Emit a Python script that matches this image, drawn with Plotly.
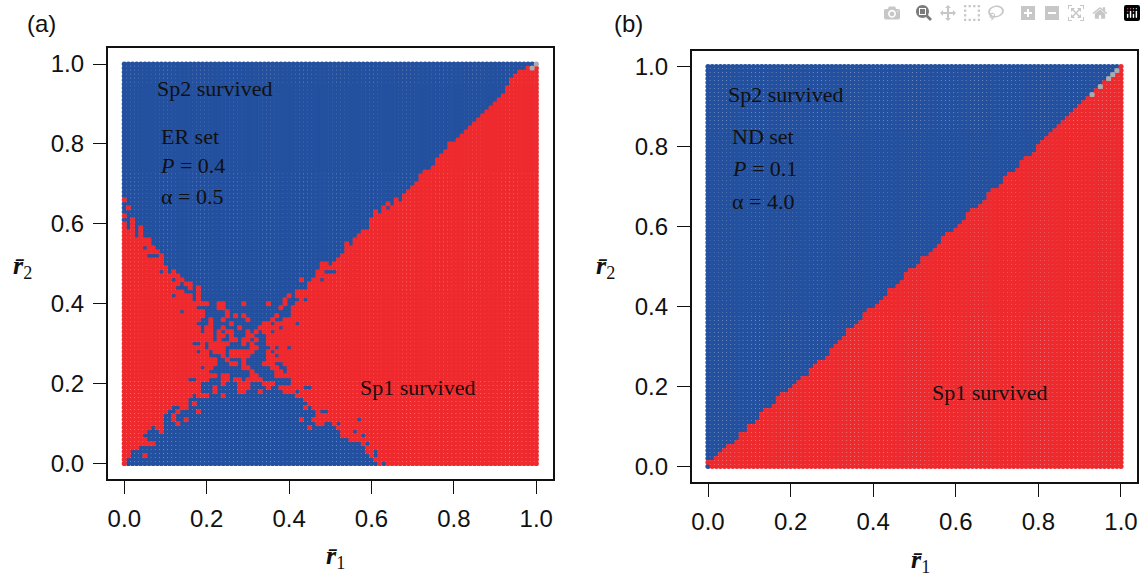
import plotly.graph_objects as go

W, H = 1146, 578
BLUE = "#23509F"
RED = "#EE2A2E"
GRAY = "#A9ABAE"
grid = [k / 100 for k in range(101)]
tick_vals = [0.0, 0.2, 0.4, 0.6, 0.8, 1.0]
tick_text = ["0.0", "0.2", "0.4", "0.6", "0.8", "1.0"]

# Panel (a): runs of Sp2 cells (first, last column) per row, from the bottom row up
a_runs_low = [
    [(1,61),(63,63)], [(1,60)], [(2,4),(6,59),(61,61)], [(2,58),(61,61)], [(4,58)],
    [(8,57),(59,59)], [(6,54)], [(5,52),(58,58)], [(6,8),(10,52),(56,56)], [(7,7),(10,44),(46,51)],
    [(10,12),(14,46),(49,50),(52,52)], [(10,11),(13,14),(16,42),(44,45),(57,57)], [(10,11),(13,46)],
    [(11,12),(14,17),(19,46),(48,49)], [(12,13),(16,43),(45,45)], [(16,16),(18,44)], [(16,43)],
    [(17,17),(21,23),(25,41)], [(19,21),(23,27),(30,32),(34,38),(42,42)],
    [(19,21),(23,27),(31,34),(36,37),(44,45)], [(19,23),(25,27),(31,33),(37,40)],
    [(16,17),(21,23),(26,26),(29,29),(34,40)], [(23,23),(26,30),(33,36)],
    [(21,30),(32,36),(39,39)], [(19,19),(22,28),(31,35),(38,39)], [(23,25),(28,28),(30,33),(37,38)],
    [(23,24),(26,28),(30,34)], [(21,23),(25,25),(31,34),(37,37)], [(18,18),(21,21),(25,25),(32,34),(36,36)],
    [(20,20),(25,30),(33,35),(37,37),(40,40)], [(17,18),(20,20),(26,28),(30,30),(32,34)],
    [(22,22),(24,25),(28,28),(31,31),(33,34)], [(22,22),(25,25),(27,29),(32,34)],
    [(19,19),(22,22),(24,24),(27,29),(31,31),(33,33),(36,36)],
    [(19,19),(22,23),(25,27),(29,32),(38,38)], [(18,20),(22,25),(27,33),(36,36),(42,42)],
    [(19,20),(22,23),(25,29),(31,35),(37,38)], [(20,24),(26,26),(28,28),(30,36),(38,40)],
    [(14,14),(20,24),(26,40)], [(18,22),(25,37),(39,40)], [(21,22),(25,28),(30,34),(36,38),(40,41)],
    [(17,17),(19,38),(40,42),(44,44)], [(12,12),(17,17),(19,39),(41,41)], [(15,17),(19,41)],
    [(13,15),(17,17),(19,44)], [(14,14),(17,44)], [(12,12),(15,42),(44,45),(48,48)], [(14,46)],
    [(9,9),(11,11),(13,46),(49,51)], [(11,47)], [(10,47),(50,50)], [(10,51)], [(6,8),(10,52)],
    [(9,53)], [(5,5),(8,53)], [(7,53),(55,55)], [(7,55)], [(3,3),(5,56)], [(3,3),(5,57)],
    [(1,1),(3,3),(5,59)], [(1,1),(3,59)], [(0,1),(3,59)], [(1,60)], [(0,60),(62,62)],
    [(0,0),(2,62),(64,64)], [(0,63),(65,65)], [(1,65),(67,67)],
]
# Rows 67..100 of panel (a): last Sp2 column of the row
a_last_sp2_high = [67,68,69,70,71,71,72,74,75,75,76,77,78,78,80,81,82,83,84,85,86,87,88,89,90,91,92,
                   92,93,93,94,95,97,99]
a_undecided = [(99,99),(100,100)]

# Panel (b): last Sp2 column of each row, bottom to top (-1 = no Sp2 cell)
b_last_sp2 = [0,-1,1,2,3,4,6,7,7,9,9,11,12,12,13,15,16,16,17,19,20,21,22,24,24,25,26,28,29,29,30,31,
              32,33,33,35,36,37,37,38,40,41,42,43,43,45,46,47,47,48,50,51,51,53,54,55,56,56,57,59,
              60,61,62,62,63,65,66,67,67,68,70,71,71,72,74,75,75,76,78,79,79,80,81,82,83,84,85,86,
              87,88,89,90,91,92,93,94,95,96,97,98,99]
b_undecided = [(93,93),(95,95),(97,97),(98,98),(99,99)]

a_rows = a_runs_low + [[(0, e)] for e in a_last_sp2_high]
b_rows = [[(0, e)] if e >= 0 else [] for e in b_last_sp2]


def cells(rows, undecided):
    und = {(i, j) for j, i in undecided}
    sp2, sp1, gray = ([], []), ([], []), ([], [])
    for j, runs in enumerate(rows):
        for i in range(101):
            target = gray if (i, j) in und else (sp2 if any(a <= i <= b for a, b in runs) else sp1)
            target[0].append(grid[i])
            target[1].append(grid[j])
    return sp2, sp1, gray


fig = go.Figure()
for suffix, rows, und in (("", a_rows, a_undecided), ("2", b_rows, b_undecided)):
    sp2, sp1, gray = cells(rows, und)
    for pts, col in ((sp2, BLUE), (sp1, RED), (gray, GRAY)):
        fig.add_trace(go.Scatter(x=pts[0], y=pts[1], mode="markers", xaxis="x" + suffix, yaxis="y" + suffix,
                                 marker=dict(symbol="circle", size=5.2, color=col, line_width=0),
                                 showlegend=False, hoverinfo="skip"))


def axis(domain, rng, anchor):
    return dict(domain=domain, range=rng, anchor=anchor, tickvals=tick_vals, ticktext=tick_text, ticks="outside",
                ticklen=13, tickwidth=1.4, tickcolor="#111", showline=True, linecolor="#111", linewidth=1.6,
                mirror=True, showgrid=False, zeroline=False, ticklabelstandoff=4,
                tickfont=dict(family="Liberation Sans", size=24, color="#111"))


fig.update_layout(
    width=W, height=H, margin=dict(l=0, r=0, t=0, b=0), paper_bgcolor="white", plot_bgcolor="white",
    xaxis=axis([107.7 / W, 553.3 / W], [-0.0403, 1.0413], "y"),
    yaxis=axis([1 - 479.3 / H, 1 - 48.3 / H], [-0.0395, 1.0393], "x"),
    xaxis2=axis([691.7 / W, 1137.3 / W], [-0.0395, 1.0395], "y2"),
    yaxis2=axis([1 - 482 / H, 1 - 51 / H], [-0.0393, 1.0388], "x2"),
)

SERIF = "Liberation Serif"
SANS = "Liberation Sans"
labels = [
    (25, 24, "(a)", SANS, 24, "left"), (612, 24, "(b)", SANS, 24, "left"),
    (155, 88, "Sp2 survived", SERIF, 22, "left"), (159, 137, "ER set", SERIF, 22, "left"),
    (158, 165, "<i>P</i> = 0.4", SERIF, 22, "left"), (159, 196, "α = 0.5", SERIF, 22, "left"),
    (358, 387, "Sp1 survived", SERIF, 22, "left"),
    (726, 94, "Sp2 survived", SERIF, 22, "left"), (730, 136, "ND set", SERIF, 22, "left"),
    (730, 169, "<i>P</i> = 0.1", SERIF, 22, "left"), (730, 201, "α = 4.0", SERIF, 22, "left"),
    (930, 392, "Sp1 survived", SERIF, 22, "left"),
    (335, 557, "<b><i>r̄</i></b><sub>1</sub>", SERIF, 26, "center"), (920, 561, "<b><i>r̄</i></b><sub>1</sub>", SERIF, 26, "center"),
    (22, 267, "<b><i>r̄</i></b><sub>2</sub>", SERIF, 26, "center"), (606, 267, "<b><i>r̄</i></b><sub>2</sub>", SERIF, 26, "center"),
]
for x, y, text, fam, size, al in labels:
    fig.add_annotation(x=x / W, y=1 - y / H, xref="paper", yref="paper", text=text, showarrow=False,
                       xanchor=al, yanchor="middle", font=dict(family=fam, size=size, color="#111"))

fig.write_html("out.html", post_script="document.body.style.margin='0';")
